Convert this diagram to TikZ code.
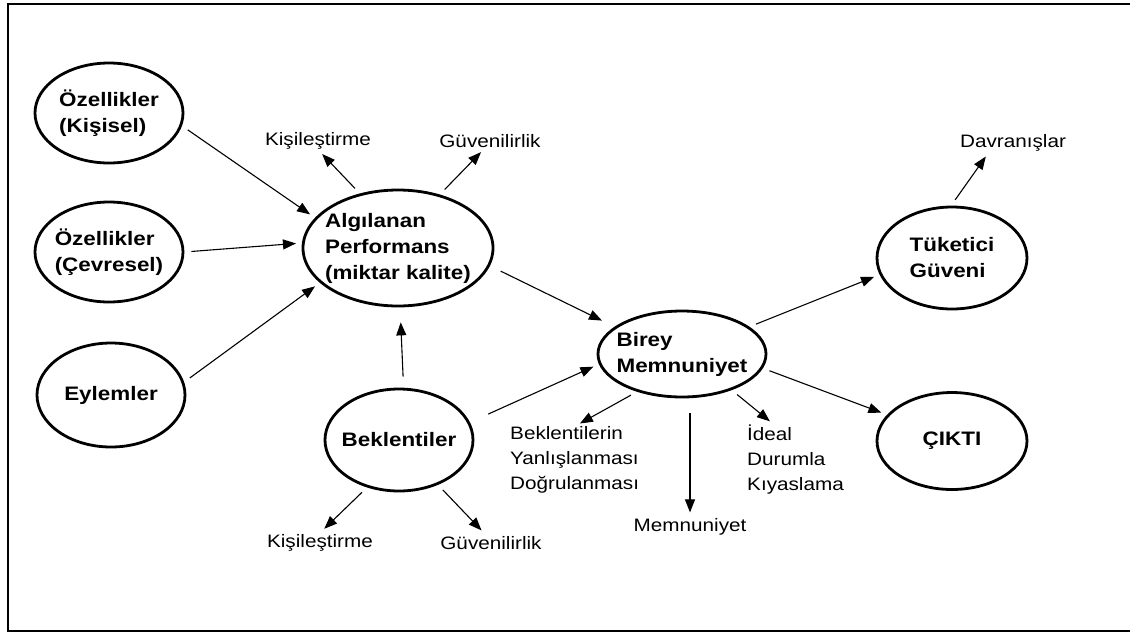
\documentclass[tikz,border=0pt]{standalone}
\usepackage{fontspec}
\setmainfont{Liberation Sans}[FakeStretch=1.15]
\usetikzlibrary{shapes.geometric,arrows.meta}
\begin{document}
\begin{tikzpicture}[x=1pt,y=-1pt,
  oval/.style={draw,ellipse,line width=2.8pt,inner sep=-12pt,align=left,font=\fontsize{19.5}{26}\selectfont\bfseries},
  etiket/.style={inner sep=0pt,align=left,font=\fontsize{18}{25}\selectfont},
  ok/.style={-{Triangle[length=13pt,width=10pt]},line width=1.1pt,shorten <=7pt,shorten >=6pt}]
\useasboundingbox (0,0) rectangle (1130,633);
\draw[line width=2.5pt] (1131,4)--(8,4)--(8,631)--(1131,631);
% ovals
\node[oval,minimum width=148pt,minimum height=100pt] (kisisel) at (109,113) {Özellikler\\(Kişisel)};
\node[oval,minimum width=148pt,minimum height=100pt] (cevresel) at (109,252) {Özellikler\\(Çevresel)};
\node[oval,minimum width=148pt,minimum height=104pt] (eylem) at (111,395) {Eylemler};
\node[oval,minimum width=190pt,minimum height=116pt] (algi) at (398,248) {Algılanan\\Performans\\(miktar kalite)};
\node[oval,minimum width=148pt,minimum height=102pt] (bekl) at (399,440) {Beklentiler};
\node[oval,minimum width=168pt,minimum height=86pt] (birey) at (682,354) {Birey\\Memnuniyet};
\node[oval,minimum width=150pt,minimum height=102pt] (guven) at (952,258) {Tüketici\\Güveni};
\node[oval,minimum width=150pt,minimum height=97pt] (cikti) at (952,441) {ÇIKTI};
% labels
\node[etiket] (kis1) at (318,141) {Kişileştirme};
\node[etiket] (guv1) at (490,141) {Güvenilirlik};
\node[etiket] (davr) at (1013,143) {Davranışlar};
\node[etiket,anchor=west] (yanlis) at (510,460) {Beklentilerin\\Yanlışlanması\\Doğrulanması};
\node[etiket,anchor=west] (ideal) at (747,460) {İdeal\\Durumla\\Kıyaslama};
\node[etiket] (memn) at (690,527) {Memnuniyet};
\node[etiket] (kis2) at (320,543) {Kişileştirme};
\node[etiket] (guv2) at (491,543) {Güvenilirlik};
% arrows
\draw[ok] (kisisel.-10) -- (algi.160);
\draw[ok] (cevresel.0) -- (algi.177);
\draw[ok] (eylem.10) -- (algi.204);
\draw[ok] (algi.125) -- (kis1.south);
\draw[ok] (algi.52) -- (guv1.235);
\draw[ok,shorten <=12pt,shorten >=14pt] (algi.-11) -- (birey.158);
\draw[ok,shorten <=11pt,shorten >=15pt] (bekl.85) -- (algi.-88);
\draw[ok,shorten <=20pt] (bekl.14) -- (birey.187);
\draw[ok,shorten >=8pt] (bekl.236) -- (kis2.100);
\draw[ok,shorten >=8pt] (bekl.-49) -- (guv2.120);
\draw[ok] (birey.220) -- (yanlis.north);
\draw[ok,shorten <=15pt] (memn.north |- birey.south) -- (memn.north);
\draw[ok] (birey.-36) -- (ideal.121);
\draw[ok] (birey.22) -- (guven.193);
\draw[ok] (birey.-10) -- (cikti.158);
\draw[ok] (guven.91) -- (davr.200);
\end{tikzpicture}
\end{document}
